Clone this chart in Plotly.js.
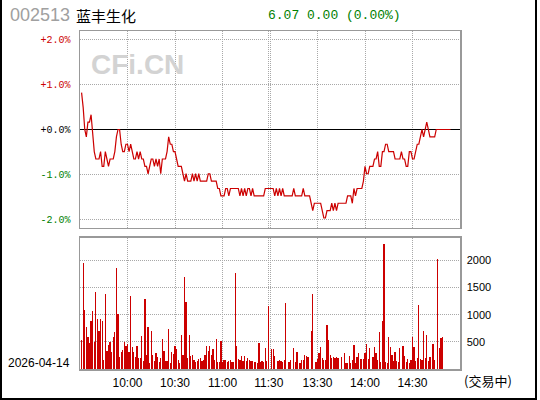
<!DOCTYPE html>
<html>
<head>
<meta charset="utf-8">
<script src="https://cdn.plot.ly/plotly-3.0.1.min.js"></script>
<style>
html,body{margin:0;padding:0;background:#fff;}
#wrap{position:relative;width:540px;height:400px;}
#chart{width:540px;height:400px;}
#frame{position:absolute;left:0;top:0;width:537px;height:400px;box-sizing:border-box;border-left:2px solid #000;border-right:2px solid #000;border-bottom:2px solid #000;pointer-events:none;}
</style>
</head>
<body>
<div id="wrap"><div id="chart"></div><div id="frame"></div></div>
<script>
// ---- data ----
const stockCode = "002513";
const stockName = "蓝丰生化";
const tradeDate = "2026-04-14";
const statusText = "(交易中)";
const prevClose = 6.07;
const quoteText = "6.07 0.00 (0.00%)";

// minute-by-minute last price, starting at minute 1 (09:31)
const prices = [
 6.12,6.10,6.07,6.06,6.08,6.08,6.09,6.06,6.04,6.03,
 6.03,6.03,6.04,6.02,6.02,6.04,6.03,6.02,6.03,6.03,
 6.03,6.04,6.06,6.07,6.07,6.05,6.04,6.04,6.05,6.05,
 6.04,6.05,6.04,6.03,6.03,6.04,6.03,6.04,6.03,6.03,
 6.02,6.02,6.01,6.02,6.03,6.03,6.02,6.03,6.02,6.03,
 6.01,6.03,6.03,6.03,6.04,6.06,6.05,6.05,6.04,6.04,
 6.03,6.02,6.02,6.02,6.01,6.00,6.01,6.00,6.00,6.00,
 6.01,6.00,6.01,6.00,6.01,6.00,6.00,6.00,6.00,6.00,
 6.01,6.01,6.00,6.00,6.00,6.00,5.99,5.99,5.98,5.98,
 5.98,5.99,5.99,5.98,5.99,5.99,5.99,5.99,5.99,5.99,
 5.98,5.99,5.98,5.99,5.98,5.99,5.99,5.98,5.99,5.98,
 5.98,5.98,5.98,5.98,5.98,5.98,5.99,5.99,5.99,5.99,
 5.99,5.99,5.98,5.99,5.98,5.99,5.98,5.99,5.98,5.98,
 5.98,5.98,5.98,5.98,5.99,5.98,5.98,5.98,5.98,5.98,
 5.99,5.98,5.98,5.98,5.98,5.97,5.96,5.97,5.97,5.97,
 5.97,5.97,5.96,5.95,5.95,5.96,5.96,5.96,5.97,5.96,
 5.97,5.96,5.97,5.97,5.97,5.97,5.97,5.97,5.98,5.98,
 5.98,5.97,5.99,5.98,5.99,5.99,5.99,5.99,6.00,6.02,
 6.01,6.01,6.02,6.02,6.02,6.03,6.03,6.04,6.02,6.02,
 6.04,6.04,6.05,6.05,6.04,6.04,6.04,6.04,6.03,6.03,
 6.03,6.03,6.04,6.03,6.03,6.02,6.02,6.04,6.04,6.03,
 6.03,6.04,6.05,6.05,6.06,6.07,6.06,6.07,6.08,6.07,
 6.06,6.06,6.06,6.06,6.07,6.07,6.07,6.07,6.07,6.07,
 6.07,6.07,6.07,6.07
];

// volume bars: minute index and volume (lots)
const volMinutes = [
 1,2,3,4,5,6,7,8,9,10,11,12,13,14,15,16,17,18,19,20,
 21,22,23,24,25,26,27,28,29,30,31,32,33,34,35,36,37,38,39,40,
 41,42,43,44,45,46,47,48,49,50,51,52,53,54,55,56,57,58,59,60,
 61,62,63,64,65,66,67,68,69,70,71,72,73,74,75,76,77,78,79,80,
 81,82,83,84,85,86,87,88,89,90,91,92,93,94,95,96,97,98,99,100,
 101,102,103,104,105,106,107,108,109,110,111,112,113,114,115,116,117,118,
 119,121,122,123,125,126,127,128,129,130,132,133,135,136,137,139,140,141,142,143,
 144,146,147,149,150,151,152,153,154,155,156,157,158,159,160,161,162,163,165,167,
 168,169,170,171,172,173,174,175,176,177,178,179,180,181,182,183,185,186,187,188,
 189,190,191,192,193,194,195,196,197,198,199,200,201,202,204,205,206,207,208,209,
 210,211,212,213,214,215,216,217,218,219,220,221,223,224,226,227,228,229
];
const volValues = [
 539,1946,1089,777,581,483,887,1071,502,1420,924,704,924,887,165,1377,337,447,502,318,
 594,685,1860,1016,226,318,355,502,428,465,318,1346,410,318,226,428,208,208,612,153,
 1291,263,777,116,704,263,153,300,226,135,208,557,337,153,153,741,116,318,282,428,
 373,171,116,630,263,1695,1236,208,630,245,263,171,135,153,190,208,153,171,263,428,
 337,428,263,373,171,557,135,135,520,135,171,171,135,153,171,135,135,1769,428,190,
 171,245,153,245,153,208,171,153,153,135,135,116,483,135,153,135,392,153,
 1163,373,373,245,153,171,153,135,171,1218,135,171,392,135,318,116,171,171,263,245,
 226,704,1383,135,190,300,410,208,171,171,814,539,263,208,226,208,226,208,226,300,
 116,116,245,116,171,447,116,226,300,190,190,190,300,465,190,392,226,410,300,171,
 685,135,887,2301,135,116,594,410,263,153,318,153,135,392,428,245,135,190,116,171,
 594,410,153,208,1181,190,171,704,208,630,153,226,465,171,2026,392,575,594
];

// axis labels
const pctLevels = [2, 1, 0, -1, -2];
const pctLabels = ["+2.0%", "+1.0%", "+0.0%", "-1.0%", "-2.0%"];
const priceLabels = ["6.19", "6.13", "6.07", "6.01", "5.95"];
const timeTickMinutes = [30, 60, 90, 119.3, 150, 180, 210];
const timeTickLabels = ["10:00", "10:30", "11:00", "11:30", "13:30", "14:00", "14:30"];
const volTickValues = [500, 1000, 1500, 2000];
const volTickLabels = ["500", "1000", "1500", "2000"];

// ---- build ----
const minutes = prices.map((_, i) => i + 1);
const RED = "#cc0000", GREEN = "#008000";
const colorFor = v => v > 0 ? RED : (v < 0 ? GREEN : "#000");
const pctTickVals = pctLevels.map(p => prevClose * (1 + p / 100));
const leftText = pctLabels.map((t, i) => `<span style="color:${colorFor(pctLevels[i])}">${t}</span>`);
const rightText = priceLabels.map((t, i) => `<span style="color:${colorFor(pctLevels[i])}">${t}</span>`);
const yLo = prevClose * (1 - 0.022), yHi = prevClose * (1 + 0.022);

const gridCol = "#a8a8a8", frameCol = "#999999", DOT = "1px,1px";
const monoFont = {family: "Liberation Mono, DejaVu Sans Mono, monospace", size: 10, color: "#000"};
const sansFont = {family: "Liberation Sans, Arial, sans-serif", size: 12, color: "#000"};

const traces = [
  {x: minutes, y: prices, type: "scatter", mode: "lines", xaxis: "x", yaxis: "y",
   line: {color: RED, width: 1.2}, hoverinfo: "skip", showlegend: false},
  {x: volMinutes, y: volValues, type: "bar", xaxis: "x2", yaxis: "y2",
   marker: {color: RED, line: {width: 0}}, width: 0.75, hoverinfo: "skip", showlegend: false}
];

const xCommon = {
  range: [0, 240], tickmode: "array", tickvals: timeTickMinutes,
  showgrid: true, gridcolor: gridCol, griddash: DOT, gridwidth: 1,
  minor: {tickmode: "array", tickvals: [120.5], showgrid: true, gridcolor: gridCol, griddash: DOT, gridwidth: 1, ticks: ""},
  showline: true, mirror: true, linecolor: frameCol, linewidth: 1.5,
  zeroline: false, ticks: "", fixedrange: true
};

const layout = {
  width: 540, height: 400,
  margin: {l: 80, r: 80, t: 31, b: 31, pad: 0},
  paper_bgcolor: "#fff", plot_bgcolor: "#fff",
  showlegend: false, bargap: 0,
  xaxis: Object.assign({}, xCommon, {domain: [0, 1], anchor: "y", showticklabels: false}),
  yaxis: {domain: [0.4172, 1], anchor: "x", range: [yLo, yHi], tickmode: "array",
    tickvals: pctTickVals, ticktext: leftText, tickfont: monoFont, ticklabelstandoff: 6,
    showgrid: true, gridcolor: gridCol, griddash: DOT, gridwidth: 1,
    showline: true, mirror: true, linecolor: frameCol, linewidth: 1.5,
    zeroline: false, ticks: "", fixedrange: true},
  yaxis3: {overlaying: "y", side: "right", anchor: "x", range: [yLo, yHi], tickmode: "array",
    tickvals: pctTickVals, ticktext: rightText, tickfont: Object.assign({}, monoFont, {size: 11}),
    ticklabelstandoff: 1, showgrid: false, showline: false, zeroline: false, ticks: "", fixedrange: true},
  xaxis2: Object.assign({}, xCommon, {domain: [0, 1], anchor: "y2", ticktext: timeTickLabels,
    tickfont: sansFont, ticklabelstandoff: 2}),
  yaxis2: {domain: [0, 0.3876], anchor: "x2", side: "right", range: [0, 2410], tickmode: "array",
    tickvals: volTickValues, ticktext: volTickLabels,
    tickfont: {family: "Liberation Sans, Arial, sans-serif", size: 11, color: "#000"}, ticklabelstandoff: 3,
    showgrid: true, gridcolor: gridCol, griddash: DOT, gridwidth: 1,
    showline: true, mirror: true, linecolor: frameCol, linewidth: 1.5,
    zeroline: false, ticks: "", fixedrange: true},
  shapes: [
    {type: "line", xref: "x", yref: "y", x0: 0, x1: 240, y0: prevClose, y1: prevClose,
     line: {color: "#000", width: 1.2}, layer: "between"}
  ],
  annotations: [
    {text: "CFi.CN", xref: "paper", yref: "paper", x: 0.1513, y: 0.9009, xanchor: "center", yanchor: "middle",
     showarrow: false, font: {family: "Liberation Sans, Arial, sans-serif", size: 28, color: "#d3d3d3", weight: "bold"}},
    {text: stockCode, xref: "paper", yref: "paper", x: -0.19, y: 1.047, xanchor: "left", yanchor: "middle",
     showarrow: false, font: {family: "Liberation Sans, Arial, sans-serif", size: 18, color: "#a0a0a0"}},
    {text: stockName, xref: "paper", yref: "paper", x: -0.0145, y: 1.047, xanchor: "left", yanchor: "middle",
     showarrow: false, font: {family: "Noto Sans CJK SC, sans-serif", size: 15, color: "#000"}},
    {text: quoteText, xref: "paper", yref: "paper", x: 0.4905, y: 1.047, xanchor: "left", yanchor: "middle",
     showarrow: false, font: {family: "Liberation Mono, DejaVu Sans Mono, monospace", size: 13, color: GREEN}},
    {text: tradeDate, xref: "paper", yref: "paper", x: -0.195, y: 0.018, xanchor: "left", yanchor: "middle",
     showarrow: false, font: sansFont},
    {text: statusText, xref: "paper", yref: "paper", x: 1.006, y: -0.033, xanchor: "left", yanchor: "middle",
     showarrow: false, font: {family: "Noto Sans CJK SC, sans-serif", size: 13, color: "#000"}}
  ]
};

Plotly.newPlot("chart", traces, layout, {displayModeBar: false, staticPlot: true});
</script>
</body>
</html>
